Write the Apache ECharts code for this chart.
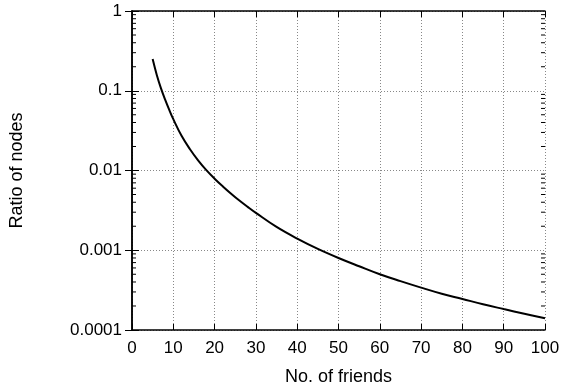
<!DOCTYPE html>
<html>
<head>
<meta charset="utf-8">
<script src="https://cdn.jsdelivr.net/npm/echarts@6/dist/echarts.min.js"></script>
<style>html,body{margin:0;padding:0;background:#fff}#c{width:564px;height:391px}</style>
</head>
<body>
<div id="c"></div>
<script>
var friends = [5,6,7,8,9,10,12,14,16,18,20,22,24,26,28,30,35,40,45,50,55,60,65,70,75,80,85,90,95,100];
var ratio = [0.25,0.158,0.108,0.078,0.058,0.044,0.0272,0.0186,0.0134,0.0101,0.0079,0.00632,0.00512,0.00420,0.00350,0.00294,0.00196,0.00140,0.00104,0.00080,0.00063,0.00050,0.00041,0.00034,0.000285,0.000245,0.00021,0.000183,0.00016,0.00014];
var yTickLabels = {"1":"1","0.1":"0.1","0.01":"0.01","0.001":"0.001","0.0001":"0.0001"};
var decades = [0.0001,0.001,0.01,0.1];
var minorMultipliers = [2,3,4,5,6,7,8,9];
var xTitle = "No. of friends";
var yTitle = "Ratio of nodes";

var font = "'Liberation Sans', Arial, Helvetica, sans-serif";
var chart = echarts.init(document.getElementById('c'));
var data = friends.map(function(f,i){return [f, ratio[i]];});
var minorVals = [];
decades.forEach(function(d){ minorMultipliers.forEach(function(m){ minorVals.push([0, +(d*m).toPrecision(6)]); }); });
function yfmt(v){
  var k = String(+v.toPrecision(6));
  return yTickLabels[k] !== undefined ? yTickLabels[k] : '';
}
var gridStyle = {show:true, lineStyle:{color:'#888', type:[1,2], width:1}};
chart.setOption({
  animation:false,
  grid:{left:131, right:19, top:11, bottom:61},
  xAxis:[{
    type:'value', min:0, max:100, interval:10,
    name:xTitle, nameLocation:'middle', nameGap:38,
    nameTextStyle:{fontFamily:font, fontSize:18, color:'#000'},
    axisLine:{show:true, lineStyle:{color:'#000', width:1.5}},
    axisTick:{show:true, inside:true, length:6, lineStyle:{color:'#000'}},
    axisLabel:{fontFamily:font, fontSize:17, color:'#000', margin:10},
    splitLine:gridStyle
  },{
    type:'value', min:0, max:100, interval:10, position:'top',
    axisLine:{show:true, lineStyle:{color:'#000', width:1.5}},
    axisTick:{show:true, inside:true, length:6, lineStyle:{color:'#000'}},
    axisLabel:{show:false}, splitLine:{show:false}
  }],
  yAxis:[{
    type:'log', logBase:10, min:0.0001, max:1,
    name:yTitle, nameLocation:'middle', nameGap:106, nameRotate:90,
    nameTextStyle:{fontFamily:font, fontSize:18, color:'#000'},
    axisLine:{show:true, lineStyle:{color:'#000', width:1.5}},
    axisTick:{show:true, inside:true, length:7, lineStyle:{color:'#000'}},
    axisLabel:{fontFamily:font, fontSize:17, color:'#000', margin:10, formatter:yfmt},
    splitLine:gridStyle
  },{
    type:'log', logBase:10, min:0.0001, max:1, position:'right',
    axisLine:{show:true, lineStyle:{color:'#000', width:1.5}},
    axisTick:{show:true, inside:true, length:7, lineStyle:{color:'#000'}},
    axisLabel:{show:false}, splitLine:{show:false}
  }],
  series:[{
    type:'custom', data:minorVals, clip:false, silent:true,
    renderItem:function(params, api){
      var v = api.value(1);
      var a = api.coord([0, v]);
      var b = api.coord([100, v]);
      return {type:'group', children:[
        {type:'line', shape:{x1:a[0], y1:a[1], x2:a[0]+4, y2:a[1]}, style:{stroke:'#000', lineWidth:1}},
        {type:'line', shape:{x1:b[0], y1:b[1], x2:b[0]-4, y2:b[1]}, style:{stroke:'#000', lineWidth:1}}
      ]};
    }
  },{
    type:'line', data:data, smooth:0.4, showSymbol:false, symbol:'none',
    lineStyle:{color:'#000', width:2}
  }]
});
</script>
</body>
</html>
